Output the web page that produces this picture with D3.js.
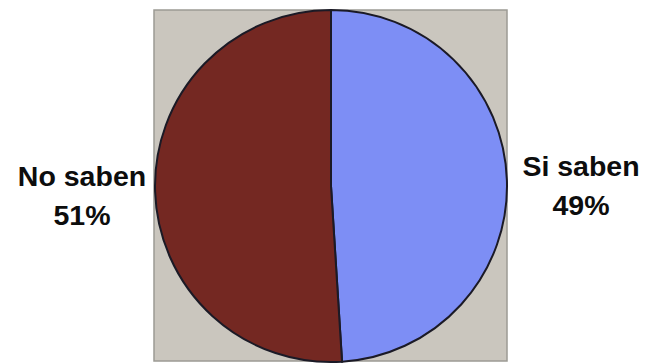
<!DOCTYPE html>
<html>
<head>
<meta charset="utf-8">
<script src="https://cdn.jsdelivr.net/npm/d3@7"></script>
<style>
  html, body { margin: 0; padding: 0; background: #ffffff; }
  svg { display: block; }
</style>
</head>
<body>
<div id="chart"></div>
<script>
// Survey answers, drawn clockwise from the top
const categories = ["Si saben", "No saben"];
const values = [49, 51];
const percentLabels = ["49%", "51%"];
const sliceColors = ["#7d8ef5", "#742822"];

const width = 646, height = 364;
const svg = d3.select("#chart").append("svg")
  .attr("width", width).attr("height", height);

// Grey plot area behind the pie
const plot = { x: 154, y: 10, w: 353, h: 351 };
svg.append("rect")
  .attr("x", plot.x).attr("y", plot.y)
  .attr("width", plot.w).attr("height", plot.h)
  .attr("fill", "#cac6be")
  .attr("stroke", "#9c9a94").attr("stroke-width", 1.5);

const cx = 331, cy = 186, r = 176;

const pie = d3.pie().sort(null).value(d => d.value).startAngle(0).endAngle(2 * Math.PI);
const arc = d3.arc().innerRadius(0).outerRadius(r);

const data = categories.map((c, i) => ({ name: c, value: values[i], label: percentLabels[i], color: sliceColors[i] }));

const g = svg.append("g").attr("transform", `translate(${cx},${cy})`);
g.selectAll("path")
  .data(pie(data))
  .join("path")
  .attr("d", arc)
  .attr("fill", d => d.data.color)
  .attr("stroke", "#1b1a26")
  .attr("stroke-width", 2);

// Category labels beside the pie
const labelPos = {
  "Si saben": { x: 581, y: 176 },
  "No saben": { x: 82, y: 186 }
};
const labels = svg.append("g")
  .attr("font-family", "'Liberation Sans', Arial, sans-serif")
  .attr("font-weight", "bold")
  .attr("font-size", 28.5)
  .attr("fill", "#0d0d0d")
  .attr("text-anchor", "middle");

data.forEach(d => {
  const p = labelPos[d.name];
  const t = labels.append("text").attr("x", p.x).attr("y", p.y);
  t.append("tspan").attr("x", p.x).text(d.name);
  t.append("tspan").attr("x", p.x).attr("dy", 39).text(d.label);
});
</script>
</body>
</html>
